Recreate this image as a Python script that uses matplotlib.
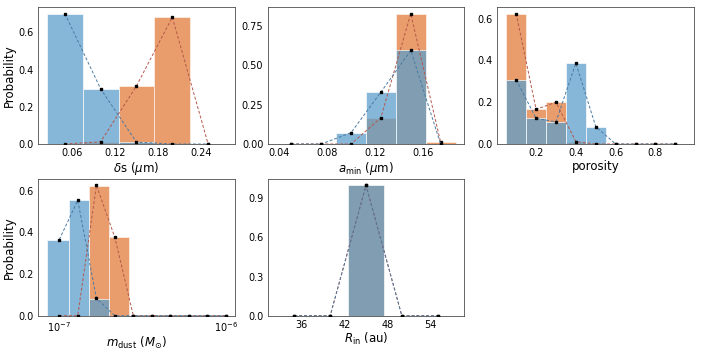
import matplotlib
matplotlib.use("Agg")
import matplotlib.pyplot as plt
from matplotlib.ticker import MultipleLocator, NullFormatter, LogLocator

# ---------------- data ----------------
ds_vals = [0.05, 0.10, 0.15, 0.20, 0.25]
ds_blue = [0.700, 0.296, 0.010, 0.0, 0.0]
ds_orange = [0.0, 0.012, 0.312, 0.681, 0.0]

amin_vals = [0.05, 0.075, 0.10, 0.125, 0.15, 0.175]
amin_blue = [0.0, 0.0, 0.072, 0.329, 0.593, 0.0]
amin_orange = [0.0, 0.0, 0.0, 0.167, 0.826, 0.011]

por_vals = [0.1, 0.2, 0.3, 0.4, 0.5, 0.6, 0.7, 0.8, 0.9]
por_blue = [0.307, 0.123, 0.106, 0.387, 0.083, 0.0, 0.0, 0.0, 0.0]
por_orange = [0.624, 0.166, 0.200, 0.011, 0.0, 0.0, 0.0, 0.0, 0.0]

mdust_vals = [1.0e-7, 1.29e-7, 1.67e-7, 2.15e-7, 2.78e-7, 3.59e-7,
              4.64e-7, 5.99e-7, 7.74e-7, 1.0e-6]
mdust_blue = [0.365, 0.553, 0.083, 0.0, 0.0, 0.0, 0.0, 0.0, 0.0, 0.0]
mdust_orange = [0.0, 0.0, 0.625, 0.377, 0.0, 0.0, 0.0, 0.0, 0.0, 0.0]
mdust_edges = [0.843e-7, 1.148e-7, 1.513e-7, 1.995e-7, 2.63e-7]
mdust_bar_blue = [0.364, 0.553, 0.080, 0.0]
mdust_bar_orange = [0.0, 0.0, 0.624, 0.377]

rin_vals = [35, 40, 45, 50, 55]
rin_blue = [0.0, 0.0, 1.0, 0.0, 0.0]
rin_orange = [0.0, 0.0, 1.0, 0.0, 0.0]

xlabels = [r'$\delta$s ($\mu$m)', r'$a_{\rm min}$ ($\mu$m)', 'porosity',
           r'$m_{\rm dust}$ ($M_{\odot}$)', r'$R_{\rm in}$ (au)']

# ---------------- style ----------------
BAR_O = '#e99d6c'
BAR_B = '#5d9ecb'
ALPHA_B = 0.75
LINE_B = '#4a7aa3'
LINE_O = '#b5574a'
EDGE = (1, 1, 1, 0.6)

fig = plt.figure(figsize=(7.01, 3.51), dpi=100)
W, H = 0.281, 0.390
lefts = [0.0542, 0.3816, 0.7094]
bottoms = [0.5897, 0.1006]
axes = [fig.add_axes([lefts[0], bottoms[0], W, H]),
        fig.add_axes([lefts[1], bottoms[0], W, H]),
        fig.add_axes([lefts[2], bottoms[0], W, H]),
        fig.add_axes([lefts[0], bottoms[1], W, H]),
        fig.add_axes([lefts[1], bottoms[1], W, H])]


def bars_lin(ax, vals, hb, ho):
    w = vals[1] - vals[0]
    ax.bar(vals, ho, width=w, color=BAR_O, edgecolor=EDGE, linewidth=0.6, zorder=1)
    ax.bar(vals, hb, width=w, color=BAR_B, alpha=ALPHA_B, edgecolor=EDGE, linewidth=0.6, zorder=2)


def lines(ax, vals, hb, ho):
    kw = dict(ls='--', lw=0.7, dashes=(3, 2), marker='s', ms=1.6, mfc='k', mec='k', zorder=3)
    ax.plot(vals, ho, color=LINE_O, **kw)
    ax.plot(vals, hb, color=LINE_B, **kw)


bars_lin(axes[0], ds_vals, ds_blue, ds_orange)
lines(axes[0], ds_vals, ds_blue, ds_orange)
bars_lin(axes[1], amin_vals, amin_blue, amin_orange)
lines(axes[1], amin_vals, amin_blue, amin_orange)
bars_lin(axes[2], por_vals, por_blue, por_orange)
lines(axes[2], por_vals, por_blue, por_orange)

ax = axes[3]
ax.set_xscale('log')
widths = [mdust_edges[i + 1] - mdust_edges[i] for i in range(len(mdust_edges) - 1)]
ax.bar(mdust_edges[:-1], mdust_bar_orange, width=widths, align='edge', color=BAR_O,
       edgecolor=EDGE, linewidth=0.6, zorder=1)
ax.bar(mdust_edges[:-1], mdust_bar_blue, width=widths, align='edge', color=BAR_B,
       alpha=ALPHA_B, edgecolor=EDGE, linewidth=0.6, zorder=2)
lines(ax, mdust_vals, mdust_blue, mdust_orange)

bars_lin(axes[4], rin_vals, rin_blue, rin_orange)
lines(axes[4], rin_vals, rin_blue, rin_orange)

axes[0].xaxis.set_major_locator(MultipleLocator(0.06))
axes[1].xaxis.set_major_locator(MultipleLocator(0.04))
axes[2].xaxis.set_major_locator(MultipleLocator(0.2))
axes[4].xaxis.set_major_locator(MultipleLocator(6))
axes[0].yaxis.set_major_locator(MultipleLocator(0.2))
axes[1].yaxis.set_major_locator(MultipleLocator(0.25))
axes[2].yaxis.set_major_locator(MultipleLocator(0.2))
axes[3].yaxis.set_major_locator(MultipleLocator(0.2))
axes[4].yaxis.set_major_locator(MultipleLocator(0.3))
axes[3].xaxis.set_major_locator(LogLocator(base=10))
axes[3].xaxis.set_minor_formatter(NullFormatter())

for i, ax in enumerate(axes):
    ax.set_xlabel(xlabels[i], fontsize=8.5, labelpad=1)
    ax.tick_params(axis='both', which='both', length=0, pad=3, labelsize=7)
    for s in ax.spines.values():
        s.set_color('0.3')
        s.set_linewidth(0.6)
axes[0].set_ylabel('Probability', fontsize=8.5, labelpad=2)
axes[3].set_ylabel('Probability', fontsize=8.5, labelpad=2)

fig.savefig('out.png', dpi=100)
